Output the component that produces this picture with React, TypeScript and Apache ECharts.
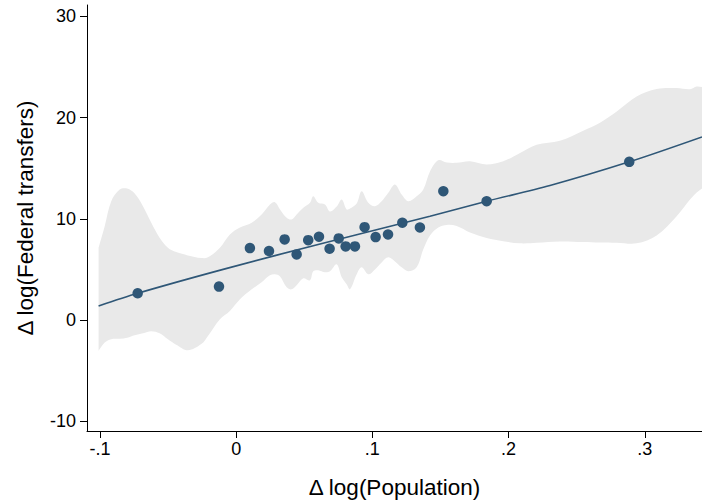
import React, { useEffect, useRef } from "react";
import * as echarts from "echarts";

// Scatter points: Δ log(Population) vs Δ log(Federal transfers)
const pointX = [
  -0.0723, -0.0126, 0.0101, 0.0241, 0.0356, 0.0444, 0.0529, 0.0608, 0.0686, 0.0753,
  0.0804, 0.0872, 0.0943, 0.1024, 0.1115, 0.122, 0.1349, 0.1521, 0.1839, 0.2886,
];
const pointY = [
  2.66, 3.32, 7.12, 6.83, 7.98, 6.5, 7.91, 8.25, 7.06, 8.08,
  7.29, 7.29, 9.19, 8.21, 8.47, 9.63, 9.16, 12.74, 11.75, 15.64,
];

// Fitted line
const fitX = [-0.101, -0.0723, -0.0082, 0.0652, 0.1423, 0.1839, 0.2304, 0.2886, 0.342];
const fitY = [1.41, 2.66, 5.07, 7.66, 10.27, 11.75, 13.3, 15.64, 18.1];

// Confidence band
const bandX = [
  -0.101, -0.0965, -0.0917, -0.0855, -0.08, -0.0745, -0.0684, -0.0623, -0.0562, -0.0501,
  -0.044, -0.0354, -0.0256, -0.0207, -0.0119, -0.0046, 0.0028, 0.0114, 0.0187, 0.0248,
  0.0285, 0.0322, 0.0371, 0.0407, 0.0444, 0.0493, 0.0542, 0.0566, 0.0603, 0.0652,
  0.0689, 0.0738, 0.0775, 0.0811, 0.0836, 0.0885, 0.0921, 0.097, 0.1019, 0.1068,
  0.1117, 0.1166, 0.1215, 0.1264, 0.1325, 0.1374, 0.1423, 0.1484, 0.1546, 0.1619,
  0.1717, 0.1839, 0.1961, 0.2084, 0.2206, 0.2377, 0.2548, 0.2671, 0.2794, 0.294,
  0.3087, 0.3234, 0.3332, 0.3381, 0.342,
];
const bandHi = [
  7.16, 9.29, 11.75, 12.91, 13.0, 12.51, 11.26, 9.63, 8.15, 7.16,
  6.73, 6.4, 6.14, 6.21, 7.16, 8.47, 9.16, 9.63, 10.44, 11.43,
  11.66, 10.94, 10.12, 9.95, 10.44, 11.1, 11.6, 12.25, 11.6, 11.43,
  10.74, 11.23, 11.92, 10.94, 11.03, 11.53, 12.74, 11.6, 11.26, 11.75,
  12.58, 13.4, 12.41, 11.75, 12.25, 12.91, 14.68, 15.79, 15.57, 15.54,
  15.69, 15.37, 15.69, 16.52, 17.34, 17.73, 18.72, 19.51, 20.62, 22.1,
  22.83, 22.93, 22.81, 23.08, 23.02,
];
const bandLo = [
  -3.02, -2.2, -1.87, -1.82, -1.72, -1.48, -1.28, -1.08, -1.28, -1.87,
  -2.41, -2.96, -2.36, -1.55, 0.1, 0.92, 2.07, 3.05, 3.74, 4.43,
  4.53, 4.33, 3.25, 3.05, 3.45, 4.14, 3.94, 4.83, 4.93, 4.73,
  4.83, 5.52, 4.24, 3.55, 3.05, 4.53, 5.22, 4.53, 5.02, 5.71,
  6.21, 5.81, 5.22, 4.83, 5.22, 7.0, 8.37, 9.16, 9.41, 9.31,
  8.67, 8.13, 7.81, 7.59, 7.64, 7.78, 7.73, 7.68, 7.66, 7.59,
  8.37, 10.28, 11.92, 12.61, 13.0,
];

const xTicks = [-0.1, 0, 0.1, 0.2, 0.3];
const xTickLabels = ["-.1", "0", ".1", ".2", ".3"];
const yTicks = [-10, 0, 10, 20, 30];
const yTickLabels = ["-10", "0", "10", "20", "30"];

const NAVY = "#2f5777";
const BAND = "#e9e9e9";
const FONT = "'Liberation Sans', Arial, sans-serif";

export default function App() {
  const ref = useRef<HTMLDivElement>(null);

  useEffect(() => {
    if (!ref.current) return;
    const chart = echarts.init(ref.current, undefined, { renderer: "svg" });

    const bandData = bandX.map((x, i) => [x, bandLo[i], bandHi[i]]);

    chart.setOption({
      animation: false,
      backgroundColor: "#ffffff",
      grid: { left: 87, right: 0, top: 5, bottom: 72, containLabel: false },
      xAxis: {
        type: "value",
        min: -0.1095,
        max: 0.342,
        name: "Δ log(Population)",
        nameLocation: "middle",
        nameGap: 45,
        nameTextStyle: { fontFamily: FONT, fontSize: 22.5, color: "#000" },
        axisLine: { onZero: false, lineStyle: { color: "#000", width: 1 } },
        axisTick: { show: true, length: 7, customValues: xTicks, lineStyle: { color: "#000" } },
        axisLabel: {
          customValues: xTicks,
          margin: 9,
          fontFamily: FONT,
          fontSize: 18,
          color: "#000",
          formatter: (v: number) => {
            const i = xTicks.findIndex((t) => Math.abs(t - v) < 1e-9);
            return i >= 0 ? xTickLabels[i] : "";
          },
        },
        splitLine: { show: false },
      },
      yAxis: {
        type: "value",
        min: -10.94,
        max: 31.13,
        name: "Δ log(Federal transfers)",
        nameLocation: "middle",
        nameGap: 50,
        nameTextStyle: { fontFamily: FONT, fontSize: 22.5, color: "#000" },
        axisLine: { onZero: false, lineStyle: { color: "#000", width: 1 } },
        axisTick: { show: true, length: 7, customValues: yTicks, lineStyle: { color: "#000" } },
        axisLabel: {
          customValues: yTicks,
          margin: 11,
          fontFamily: FONT,
          fontSize: 18,
          color: "#000",
          formatter: (v: number) => {
            const i = yTicks.findIndex((t) => Math.abs(t - v) < 1e-9);
            return i >= 0 ? yTickLabels[i] : "";
          },
        },
        splitLine: { show: false },
      },
      series: [
        {
          type: "custom",
          name: "band",
          data: bandData,
          encode: { x: 0, y: [1, 2] },
          clip: true,
          z: 1,
          renderItem: (params: any, api: any) => {
            if (params.dataIndex !== 0) return null;
            const up = bandX.map((x, i) => api.coord([x, bandHi[i]]));
            const lo = bandX.map((x, i) => api.coord([x, bandLo[i]])).reverse();
            const pts = [up[0], ...up, up[up.length - 1], lo[0], ...lo, lo[lo.length - 1]];
            return {
              type: "polygon",
              shape: { points: pts, smooth: 0.35 },
              style: { fill: BAND, stroke: "none" },
            };
          },
        },
        {
          type: "line",
          name: "fit",
          data: fitX.map((x, i) => [x, fitY[i]]),
          smooth: 0.3,
          showSymbol: false,
          symbol: "none",
          lineStyle: { color: NAVY, width: 1.6 },
          z: 2,
        },
        {
          type: "scatter",
          name: "points",
          data: pointX.map((x, i) => [x, pointY[i]]),
          symbol: "circle",
          symbolSize: 10.5,
          itemStyle: { color: NAVY, opacity: 1 },
          z: 3,
        },
      ],
    });

    return () => chart.dispose();
  }, []);

  return (
    <div
      ref={ref}
      style={{ position: "fixed", left: 0, top: 0, width: 702, height: 504, background: "#fff" }}
    />
  );
}
